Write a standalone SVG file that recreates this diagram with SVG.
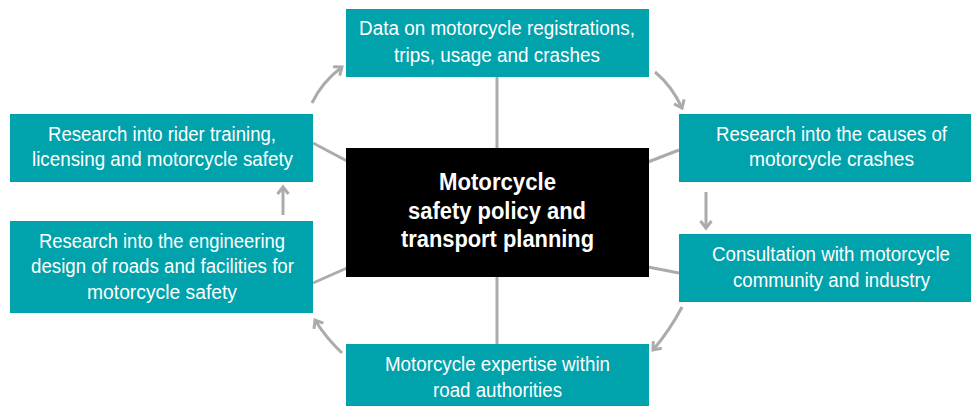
<svg xmlns="http://www.w3.org/2000/svg" width="971" height="406" viewBox="0 0 971 406">
<defs>
<style>
.box{fill:#00A2AC}
.center{fill:#000}
.t{font-family:"Liberation Sans",Arial,sans-serif;font-size:20px;fill:#fff;text-anchor:middle}
.tb{font-family:"Liberation Sans",Arial,sans-serif;font-size:23px;font-weight:bold;fill:#fff;text-anchor:middle}
.ln{stroke:#ABABAB;stroke-width:3;fill:none}
.ar{stroke:#ABABAB;stroke-width:3;fill:none;marker-end:url(#chev)}
</style>
<marker id="chev" markerUnits="userSpaceOnUse" markerWidth="14" markerHeight="14" viewBox="0 0 14 14" refX="11" refY="7" orient="auto">
<path d="M4,1.5 L11,7 L4,12.5" fill="none" stroke="#ABABAB" stroke-width="3"/>
</marker>
</defs>
<g id="connectors">
<line class="ln" x1="497" y1="77" x2="497" y2="148"/>
<line class="ln" x1="497" y1="277" x2="497" y2="344"/>
<line class="ln" x1="313" y1="143" x2="347" y2="161"/>
<line class="ln" x1="313" y1="283" x2="347" y2="268"/>
<line class="ln" x1="648" y1="162" x2="679" y2="150"/>
<line class="ln" x1="648" y1="267" x2="679" y2="273"/>
<path class="ar" d="M312,103 Q322,82 342,67"/>
<path class="ar" d="M655,72 Q672,86 682,108"/>
<path class="ar" d="M706,192 L706,228"/>
<path class="ar" d="M682,307 Q670,330 653,350"/>
<path class="ar" d="M342,353 Q326,338 315,320"/>
<path class="ar" d="M283,215 L283,187"/>
</g>
<g id="center">
<rect class="center" x="346" y="148" width="303" height="129"/>
<text class="tb" x="497.5" y="190" textLength="117" lengthAdjust="spacingAndGlyphs">Motorcycle</text>
<text class="tb" x="497" y="219" textLength="178" lengthAdjust="spacingAndGlyphs">safety policy and</text>
<text class="tb" x="497.5" y="247" textLength="193" lengthAdjust="spacingAndGlyphs">transport planning</text>
</g>
<g id="data">
<rect class="box" x="346" y="9" width="303" height="68"/>
<text class="t" x="497" y="35" textLength="276" lengthAdjust="spacingAndGlyphs">Data on motorcycle registrations,</text>
<text class="t" x="497" y="62" textLength="206" lengthAdjust="spacingAndGlyphs">trips, usage and crashes</text>
</g>
<g id="causes">
<rect class="box" x="679" y="114" width="292" height="68"/>
<text class="t" x="831.5" y="141" textLength="231" lengthAdjust="spacingAndGlyphs">Research into the causes of</text>
<text class="t" x="831.5" y="166" textLength="165" lengthAdjust="spacingAndGlyphs">motorcycle crashes</text>
</g>
<g id="consultation">
<rect class="box" x="679" y="234" width="292" height="68"/>
<text class="t" x="831" y="261" textLength="238" lengthAdjust="spacingAndGlyphs">Consultation with motorcycle</text>
<text class="t" x="831.5" y="287" textLength="197" lengthAdjust="spacingAndGlyphs">community and industry</text>
</g>
<g id="expertise">
<rect class="box" x="346" y="344" width="303" height="62"/>
<text class="t" x="497.5" y="371" textLength="225" lengthAdjust="spacingAndGlyphs">Motorcycle expertise within</text>
<text class="t" x="497.5" y="397" textLength="129" lengthAdjust="spacingAndGlyphs">road authorities</text>
</g>
<g id="engineering">
<rect class="box" x="10" y="221" width="303" height="92"/>
<text class="t" x="162" y="248" textLength="246" lengthAdjust="spacingAndGlyphs">Research into the engineering</text>
<text class="t" x="162.5" y="273" textLength="263" lengthAdjust="spacingAndGlyphs">design of roads and facilities for</text>
<text class="t" x="162" y="299" textLength="150" lengthAdjust="spacingAndGlyphs">motorcycle safety</text>
</g>
<g id="training">
<rect class="box" x="10" y="114" width="303" height="68"/>
<text class="t" x="162" y="141" textLength="228" lengthAdjust="spacingAndGlyphs">Research into rider training,</text>
<text class="t" x="162.5" y="166" textLength="261" lengthAdjust="spacingAndGlyphs">licensing and motorcycle safety</text>
</g>
</svg>
